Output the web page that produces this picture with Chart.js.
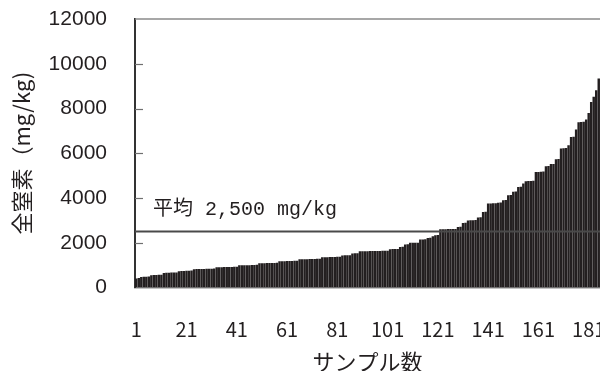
<!DOCTYPE html>
<html>
<head>
<meta charset="utf-8">
<script src="https://cdn.jsdelivr.net/npm/chart.js@4/dist/chart.umd.min.js"></script>
<style>
  html, body { margin: 0; padding: 0; background: #fff; overflow: hidden; }
  #wrap { width: 600px; height: 371px; position: relative; }
</style>
</head>
<body>
<div id="wrap"><canvas id="c" width="600" height="371"></canvas></div>
<script>
// Total nitrogen per sample (mg/kg), sorted ascending
const nitrogen = [
  400, 420,
  470, 480, 485, 490,
  550, 555, 560, 565, 570,
  650, 655, 660, 665, 670, 675,
  730, 735, 740, 745, 750, 755,
  820, 825, 825, 830, 830, 835, 835, 840, 845,
  905, 910, 910, 915, 915, 920, 920, 925, 930,
  990, 995, 995, 1000, 1000, 1005, 1010, 1015,
  1080, 1085, 1085, 1090, 1090, 1095, 1100, 1105,
  1170, 1175, 1175, 1180, 1180, 1185, 1190, 1195,
  1260, 1260, 1265, 1265, 1270, 1275, 1275, 1280, 1285,
  1350, 1350, 1355, 1360, 1360, 1365, 1370, 1375,
  1435, 1440, 1440, 1445,
  1525, 1530, 1535,
  1620, 1620, 1625, 1625, 1630, 1630, 1630, 1635, 1635, 1640, 1640, 1645,
  1715, 1720, 1720, 1725,
  1815, 1825,
  1925, 1935,
  1995, 2000, 2000, 2005,
  2145, 2150, 2155,
  2215, 2225,
  2290,
  2335, 2345,
  2600, 2600, 2605, 2610, 2610, 2615, 2620,
  2705, 2715,
  2885, 2895,
  3000, 3005, 3010, 3015,
  3125, 3135,
  3375, 3385,
  3750, 3755, 3760, 3765,
  3785, 3795,
  3905, 3915,
  4125, 4135,
  4275, 4285,
  4495, 4505,
  4650,
  4750, 4755, 4760, 4770,
  5160, 5165, 5170, 5180,
  5415, 5425,
  5515, 5525,
  5735, 5745,
  6210, 6220, 6230,
  6360,
  6725, 6735,
  7060,
  7390, 7400, 7410,
  7510,
  7800,
  8290,
  8520,
  8820,
  9340
];

// Sample numbers along the x axis
const sampleNumbers = nitrogen.map((_, i) => String(i + 1));

// Sample numbers that carry a label
const xTickLabels = ['1', '21', '41', '61', '81', '101', '121', '141', '161', '181'];

// Y axis range and step
const yMin = 0;
const yMax = 12000;
const yStep = 2000;

// Mean value reference line
const meanValue = 2500;
const meanLabel = '平均 2,500 mg/kg';

const yTitle = '全窒素（mg/kg)';
const xTitle = 'サンプル数';

const INK = '#231f20';
const JP_FONT = '"Noto Sans CJK JP", "Noto Sans", sans-serif';

// Frame: top border and inward tick marks on the value axis
const framePlugin = {
  id: 'frame',
  afterDraw(chart) {
    const { ctx, chartArea } = chart;
    const y = chart.scales.y;
    ctx.save();
    ctx.strokeStyle = '#8a8a8a';
    ctx.lineWidth = 1.5;
    ctx.beginPath();
    ctx.moveTo(chartArea.left, chartArea.top);
    ctx.lineTo(chartArea.right, chartArea.top);
    ctx.stroke();
    ctx.strokeStyle = '#707070';
    ctx.lineWidth = 1.2;
    y.ticks.forEach(t => {
      const py = Math.round(y.getPixelForValue(t.value)) + 0.5;
      if (t.value === yMin || t.value === yMax) return;
      ctx.beginPath();
      ctx.moveTo(chartArea.left, py);
      ctx.lineTo(chartArea.left + 8, py);
      ctx.stroke();
    });
    ctx.restore();
  }
};

// Horizontal mean line with its caption
const meanLinePlugin = {
  id: 'meanLine',
  afterDatasetsDraw(chart) {
    const { ctx, chartArea } = chart;
    const py = chart.scales.y.getPixelForValue(meanValue);
    ctx.save();
    ctx.strokeStyle = '#4a4a4a';
    ctx.lineWidth = 2;
    ctx.beginPath();
    ctx.moveTo(chartArea.left, py);
    ctx.lineTo(chartArea.right, py);
    ctx.stroke();
    ctx.fillStyle = INK;
    ctx.font = '20px "Liberation Mono", "Noto Sans CJK JP", monospace';
    ctx.textBaseline = 'middle';
    ctx.textAlign = 'left';
    ctx.fillText(meanLabel, chartArea.left + 18, py - 22);
    ctx.restore();
  }
};

new Chart(document.getElementById('c'), {
  type: 'bar',
  data: {
    labels: sampleNumbers,
    datasets: [{
      data: nitrogen,
      backgroundColor: INK,
      borderWidth: 0,
      barPercentage: 0.97,
      categoryPercentage: 1.0
    }]
  },
  options: {
    responsive: false,
    animation: false,
    events: [],
    layout: { padding: { top: 19, right: 0, bottom: 0, left: 0 } },
    plugins: {
      legend: { display: false },
      tooltip: { enabled: false }
    },
    scales: {
      x: {
        type: 'category',
        offset: true,
        grid: { display: false, drawTicks: false },
        border: { display: true, color: '#8a8a8a', width: 1.5 },
        ticks: {
          autoSkip: false,
          maxRotation: 0,
          minRotation: 0,
          padding: 30,
          color: INK,
          font: { family: JP_FONT, size: 20 },
          callback: function (value, index) {
            const lbl = sampleNumbers[index];
            return xTickLabels.includes(lbl) ? lbl : null;
          }
        },
        title: {
          display: true,
          text: xTitle,
          color: INK,
          font: { family: JP_FONT, size: 22, lineHeight: 1 },
          padding: { top: 0, bottom: -2 }
        },
        afterFit: (scale) => {
          scale.height = 83.5;
          scale.paddingLeft = 0;
          scale.paddingRight = 0;
        }
      },
      y: {
        min: yMin,
        max: yMax,
        grid: { display: false, drawTicks: false },
        border: { display: true, color: '#333333', width: 2 },
        ticks: {
          stepSize: yStep,
          padding: 28,
          color: INK,
          font: { family: '"Liberation Sans", Arial, sans-serif', size: 21 },
          callback: (v) => String(v)
        },
        title: {
          display: true,
          text: yTitle,
          color: INK,
          font: { family: JP_FONT, size: 22, lineHeight: 1.2 },
          padding: { top: 8, bottom: 0 }
        },
        afterFit: (scale) => {
          scale.width = 135;
          scale.paddingTop = 0;
          scale.paddingBottom = 0;
        }
      }
    }
  },
  plugins: [framePlugin, meanLinePlugin]
});
</script>
</body>
</html>
